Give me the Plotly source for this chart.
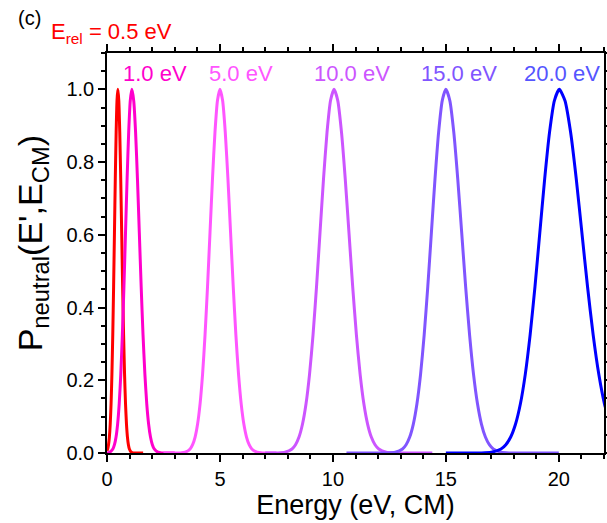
import plotly.graph_objects as go

# ---- data ----
x_05 = [0.0, 0.03, 0.0675, 0.105, 0.1425, 0.18, 0.2175, 0.255, 0.2925, 0.33, 0.3675, 0.405, 0.4425, 0.48,
        0.5225, 0.565, 0.6075, 0.65, 0.6925, 0.735, 0.7775, 0.82, 0.8625, 0.905, 0.9475, 0.99, 1.075, 1.16, 1.6]
y_05 = [0.006, 0.0111, 0.0228, 0.0439, 0.0796, 0.1353, 0.2163, 0.3247, 0.4578, 0.6065, 0.7548, 0.8825, 0.9692, 1.0,
        0.9692, 0.8825, 0.7548, 0.6065, 0.4578, 0.3247, 0.2163, 0.1353, 0.0796, 0.0439, 0.0228, 0.0111, 0.0022, 0.0003, 0.0]

x_10 = [0.0, 0.12, 0.26, 0.33, 0.40, 0.47, 0.54, 0.61, 0.68, 0.75, 0.82, 0.89, 0.96, 1.03, 1.1,
        1.1825, 1.265, 1.3475, 1.43, 1.5125, 1.595, 1.6775, 1.76, 1.8425, 1.925, 2.0075, 2.09, 2.255, 2.42, 3.0]
y_10 = [0.0, 0.0022, 0.0111, 0.0228, 0.0439, 0.0796, 0.1353, 0.2163, 0.3247, 0.4578, 0.6065, 0.7548, 0.8825, 0.9692, 1.0,
        0.9692, 0.8825, 0.7548, 0.6065, 0.4578, 0.3247, 0.2163, 0.1353, 0.0796, 0.0439, 0.0228, 0.0111, 0.0022, 0.0003, 0.0]

x_50 = [2.5, 3.24, 3.46, 3.68, 3.79, 3.90, 4.01, 4.12, 4.23, 4.34, 4.45, 4.56, 4.67, 4.78, 4.89, 5.0,
        5.1175, 5.235, 5.3525, 5.47, 5.5875, 5.705, 5.8225, 5.94, 6.0575, 6.175, 6.2925, 6.41, 6.645, 6.88, 7.5]
y_50 = [0.0, 0.0003, 0.0022, 0.0111, 0.0228, 0.0439, 0.0796, 0.1353, 0.2163, 0.3247, 0.4578, 0.6065, 0.7548, 0.8825, 0.9692, 1.0,
        0.9692, 0.8825, 0.7548, 0.6065, 0.4578, 0.3247, 0.2163, 0.1353, 0.0796, 0.0439, 0.0228, 0.0111, 0.0022, 0.0003, 0.0]

x_100 = [7.0, 7.57, 7.88, 8.19, 8.345, 8.50, 8.655, 8.81, 8.965, 9.12, 9.275, 9.43, 9.585, 9.74, 9.895, 10.05,
         10.215, 10.38, 10.545, 10.71, 10.875, 11.04, 11.205, 11.37, 11.535, 11.70, 11.865, 12.03, 12.36, 12.69, 14.4]
y_100 = [0.0, 0.0003, 0.0022, 0.0111, 0.0228, 0.0439, 0.0796, 0.1353, 0.2163, 0.3247, 0.4578, 0.6065, 0.7548, 0.8825, 0.9692, 1.0,
         0.9692, 0.8825, 0.7548, 0.6065, 0.4578, 0.3247, 0.2163, 0.1353, 0.0796, 0.0439, 0.0228, 0.0111, 0.0022, 0.0003, 0.0]

x_150 = [10.6, 12.44, 12.76, 13.08, 13.24, 13.40, 13.56, 13.72, 13.88, 14.04, 14.20, 14.36, 14.52, 14.68, 14.84, 15.0,
         15.175, 15.35, 15.525, 15.70, 15.875, 16.05, 16.225, 16.40, 16.575, 16.75, 16.925, 17.10, 17.45, 17.80, 20.0]
y_150 = [0.0, 0.0003, 0.0022, 0.0111, 0.0228, 0.0439, 0.0796, 0.1353, 0.2163, 0.3247, 0.4578, 0.6065, 0.7548, 0.8825, 0.9692, 1.0,
         0.9692, 0.8825, 0.7548, 0.6065, 0.4578, 0.3247, 0.2163, 0.1353, 0.0796, 0.0439, 0.0228, 0.0111, 0.0022, 0.0003, 0.0]

x_200 = [15.0, 16.58, 17.01, 17.44, 17.655, 17.87, 18.085, 18.30, 18.515, 18.73, 18.945, 19.16, 19.375, 19.59, 19.805, 20.02,
         20.27, 20.52, 20.77, 21.02, 21.27, 21.52, 21.77, 22.02, 22.27]
y_200 = [0.0, 0.0003, 0.0022, 0.0111, 0.0228, 0.0439, 0.0796, 0.1353, 0.2163, 0.3247, 0.4578, 0.6065, 0.7548, 0.8825, 0.9692, 1.0,
         0.9692, 0.8825, 0.7548, 0.6065, 0.4578, 0.3247, 0.2163, 0.1353, 0.0796]

series = [
    (x_05, y_05, "#FF0000"),
    (x_10, y_10, "#FF00CC"),
    (x_50, y_50, "#FF55FF"),
    (x_100, y_100, "#CC55FF"),
    (x_150, y_150, "#8055FF"),
    (x_200, y_200, "#0000FF"),
]

label_texts = ["1.0 eV", "5.0 eV", "10.0 eV", "15.0 eV", "20.0 eV"]
label_x = [2.12, 5.93, 10.84, 15.58, 20.13]
label_colors = ["#FF00CC", "#FF55FF", "#CC55FF", "#8055FF", "#5555FF"]

FONT = "Liberation Sans, Arial, sans-serif"

fig = go.Figure()
for xs, ys, c in series:
    fig.add_trace(go.Scatter(x=xs, y=ys, mode="lines",
                             line=dict(color=c, width=3, shape="spline", smoothing=0.6),
                             showlegend=False, cliponaxis=True))

for t, xx, c in zip(label_texts, label_x, label_colors):
    fig.add_annotation(x=xx, y=1.045, xref="x", yref="y", text=t, showarrow=False,
                       font=dict(family=FONT, size=22, color=c), xanchor="center", yanchor="middle")

fig.add_annotation(x=-0.155, y=1.0875, xref="paper", yref="paper", text="(c)", showarrow=False,
                   font=dict(family=FONT, size=20, color="black"), xanchor="center", yanchor="middle")
fig.add_annotation(x=-0.117, y=1.05, xref="paper", yref="paper", text="E<sub>rel</sub> = 0.5 eV",
                   showarrow=False, font=dict(family=FONT, size=22, color="#FF0000"),
                   xanchor="left", yanchor="middle")
# y-axis title
fig.add_annotation(x=-0.151, y=0.524, xref="paper", yref="paper",
                   text="P<sub>neutral</sub>(E',E<sub>CM</sub>)", textangle=-90, showarrow=False,
                   font=dict(family=FONT, size=34, color="black"), xanchor="center", yanchor="middle")

fig.update_layout(
    width=607, height=523,
    margin=dict(l=107, r=3, t=53, b=70),
    paper_bgcolor="white", plot_bgcolor="white",
    font=dict(family=FONT, color="black"),
)

fig.update_xaxes(
    range=[0, 22], showgrid=False, zeroline=False, automargin=False,
    showline=True, linecolor="black", linewidth=1.5, mirror="ticks",
    ticks="outside", ticklen=7, tickwidth=1.5, tickcolor="black", dtick=5, tick0=0,
    minor=dict(ticks="outside", ticklen=4, tickwidth=1.5, tickcolor="black", dtick=1),
    tickfont=dict(family=FONT, size=20, color="black"),
    title=dict(text="Energy (eV, CM)", font=dict(family=FONT, size=27, color="black"), standoff=4),
    layer="below traces",
)
fig.update_yaxes(
    range=[0, 1.1], showgrid=False, zeroline=False, automargin=False,
    showline=True, linecolor="black", linewidth=1.5, mirror="ticks",
    ticks="outside", ticklen=7, tickwidth=1.5, tickcolor="black", dtick=0.2, tick0=0,
    tickformat=".1f",
    minor=dict(ticks="outside", ticklen=4, tickwidth=1.5, tickcolor="black", dtick=0.05),
    tickfont=dict(family=FONT, size=20, color="black"),
    layer="below traces",
)

fig.write_html("out.html")
